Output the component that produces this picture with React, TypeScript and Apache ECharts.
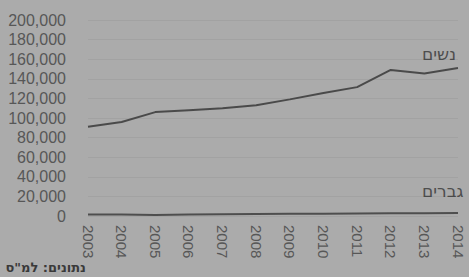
import React, { useEffect, useRef } from "react";
import * as echarts from "echarts";

const years = ["2003", "2004", "2005", "2006", "2007", "2008", "2009", "2010", "2011", "2012", "2013", "2014"];
const women = [91000, 96000, 106000, 108000, 110000, 113000, 119000, 125500, 131500, 149000, 145500, 151000];
const men = [1500, 1500, 1000, 1600, 1800, 2000, 2200, 2400, 2600, 2800, 2900, 3000];
const yTicks = { min: 0, max: 200000, interval: 20000 };
const womenLabel = "נשים";
const menLabel = "גברים";
const sourceText = 'נתונים: למ"ס';

export default function App() {
  const ref = useRef<HTMLDivElement>(null);
  useEffect(() => {
    if (!ref.current) return;
    const chart = echarts.init(ref.current, undefined, { renderer: "svg" });
    const textColor = "#575757";
    chart.setOption({
      animation: false,
      backgroundColor: "#ababab",
      grid: { left: 88, right: 11, top: 20, bottom: 61, containLabel: false },
      xAxis: {
        type: "category",
        data: years,
        boundaryGap: false,
        axisLine: { show: false },
        axisTick: { show: false },
        axisLabel: {
          rotate: -90,
          margin: 9,
          color: textColor,
          fontSize: 15,
          fontFamily: "Liberation Sans, Arial, sans-serif",
        },
        splitLine: { show: false },
      },
      yAxis: {
        type: "value",
        min: yTicks.min,
        max: yTicks.max,
        interval: yTicks.interval,
        axisLine: { show: false },
        axisTick: { show: false },
        axisLabel: {
          margin: 22,
          color: textColor,
          fontSize: 16,
          fontFamily: "Liberation Sans, Arial, sans-serif",
          formatter: (v: number) => v.toLocaleString("en-US"),
        },
        splitLine: { show: true, lineStyle: { color: "rgba(0,0,0,0.05)", width: 1 } },
      },
      series: [
        {
          type: "line",
          name: womenLabel,
          data: women,
          symbol: "none",
          smooth: false,
          lineStyle: { color: "#4a4a4a", width: 2 },
        },
        {
          type: "line",
          name: menLabel,
          data: men,
          symbol: "none",
          lineStyle: { color: "#4e4e4e", width: 2 },
        },
      ],
      graphic: [
        {
          type: "text",
          left: 422,
          top: 45,
          style: { text: womenLabel, fill: "#4e4e4e", fontSize: 17, fontFamily: "DejaVu Sans, sans-serif" },
        },
        {
          type: "text",
          left: 422,
          top: 182,
          style: { text: menLabel, fill: "#4e4e4e", fontSize: 17, fontFamily: "DejaVu Sans, sans-serif" },
        },
        {
          type: "text",
          x: 86,
          y: 267,
          style: {
            text: sourceText,
            fill: "#3a3a3a",
            fontSize: 13,
            fontWeight: "bold",
            align: "right",
            verticalAlign: "middle",
            fontFamily: "DejaVu Sans, sans-serif",
          },
        },
      ],
    });
    return () => chart.dispose();
  }, []);
  return <div ref={ref} style={{ position: "fixed", left: 0, top: 0, width: 469, height: 277 }} />;
}
